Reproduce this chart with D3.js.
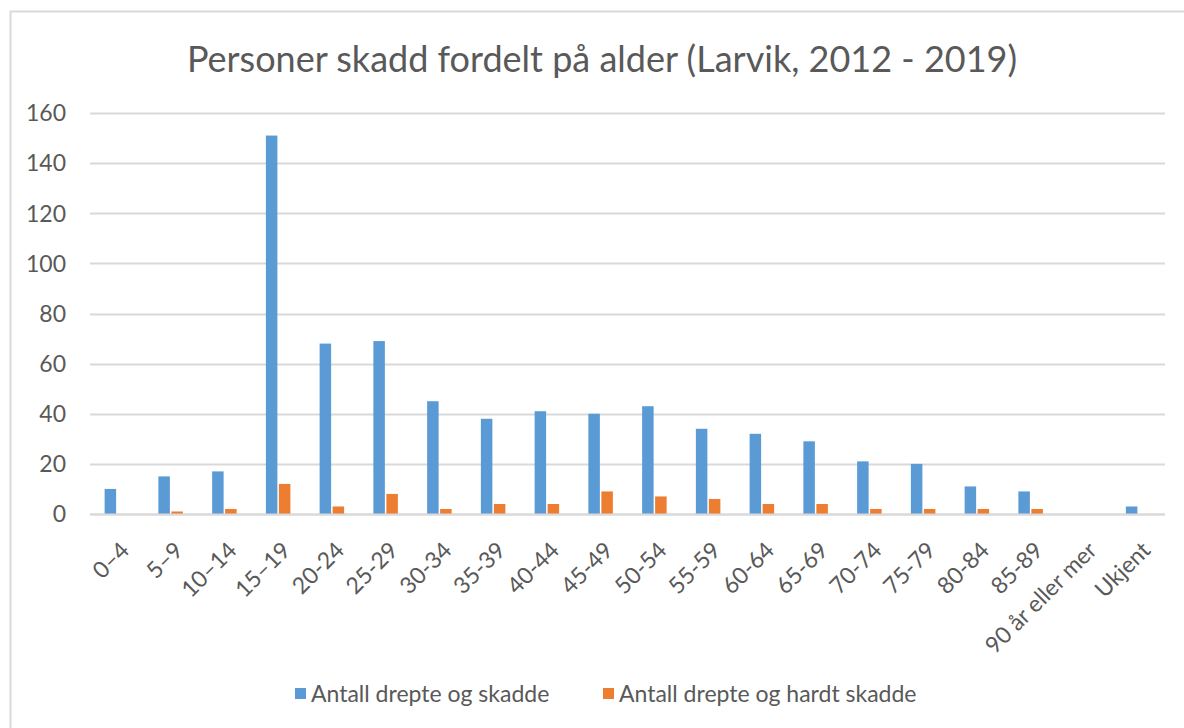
<!DOCTYPE html>
<html>
<head>
<meta charset="utf-8">
<script src="https://cdn.jsdelivr.net/npm/d3@7"></script>
<style>
  body { margin: 0; background: #fff; }
  svg text { font-family: Lato, "Open Sans", sans-serif; fill: #595959; }
</style>
</head>
<body>
<div id="chart"></div>
<script>
// data
var categories = ['0–4', '5–9', '10–14', '15–19', '20-24', '25-29', '30-34', '35-39', '40-44', '45-49',
  '50-54', '55-59', '60-64', '65-69', '70-74', '75-79', '80-84', '85-89', '90 år eller mer', 'Ukjent'];
var skadde = [10, 15, 17, 151, 68, 69, 45, 38, 41, 40, 43, 34, 32, 29, 21, 20, 11, 9, 0, 3];
var hardtSkadde = [0, 1, 2, 12, 3, 8, 2, 4, 4, 9, 7, 6, 4, 4, 2, 2, 2, 2, 0, 0];
var seriesNames = ['Antall drepte og skadde', 'Antall drepte og hardt skadde'];
var seriesColors = ['#5b9bd5', '#ed7d31'];
var yTicks = [0, 20, 40, 60, 80, 100, 120, 140, 160];

var width = 1184, height = 728;
var margin = { top: 113, right: 19, bottom: 214, left: 90 };

var svg = d3.select('#chart').append('svg')
  .attr('width', width)
  .attr('height', height);

// chart frame
svg.append('rect')
  .attr('x', 10.5).attr('y', 11.5)
  .attr('width', 1300).attr('height', 900)
  .attr('fill', 'none')
  .attr('stroke', '#d9d9d9')
  .attr('stroke-width', 2);

svg.append('text')
  .attr('x', 602).attr('y', 72)
  .attr('text-anchor', 'middle')
  .style('font-size', '36px')
  .text('Personer skadd fordelt på alder (Larvik, 2012 - 2019)');

var x = d3.scaleBand()
  .domain(categories)
  .range([margin.left, width - margin.right]);

var y = d3.scaleLinear()
  .domain([0, 160])
  .range([height - margin.bottom, margin.top]);

// gridlines
svg.append('g')
  .selectAll('line')
  .data(yTicks)
  .enter().append('line')
  .attr('x1', margin.left).attr('x2', width - margin.right)
  .attr('y1', function (d) { return Math.round(y(d)) + 0.5; })
  .attr('y2', function (d) { return Math.round(y(d)) + 0.5; })
  .attr('stroke', '#d9d9d9')
  .attr('stroke-width', 2);

// y labels
svg.append('g')
  .selectAll('text')
  .data(yTicks)
  .enter().append('text')
  .attr('x', 66)
  .attr('y', function (d) { return y(d); })
  .attr('dy', '0.36em')
  .attr('text-anchor', 'end')
  .style('font-size', '23px')
  .text(function (d) { return d; });

var barW = 11.5, gap = 1.5;
var series = [skadde, hardtSkadde];

series.forEach(function (vals, s) {
  svg.append('g')
    .selectAll('rect')
    .data(vals)
    .enter().append('rect')
    .attr('x', function (d, i) {
      var c = x(categories[i]) + x.bandwidth() / 2;
      return s === 0 ? c - gap / 2 - barW : c + gap / 2;
    })
    .attr('y', function (d) { return y(d); })
    .attr('width', barW)
    .attr('height', function (d) { return y(0) - y(d); })
    .attr('fill', seriesColors[s]);
});

// baseline over the bars
svg.append('line')
  .attr('x1', margin.left).attr('x2', width - margin.right)
  .attr('y1', Math.round(y(0)) + 0.5).attr('y2', Math.round(y(0)) + 0.5)
  .attr('stroke', '#d9d9d9')
  .attr('stroke-width', 2);

// category labels, rotated
svg.append('g')
  .selectAll('text')
  .data(categories)
  .enter().append('text')
  .attr('text-anchor', 'end')
  .attr('dy', '0.35em')
  .attr('transform', function (d) {
    var c = x(d) + x.bandwidth() / 2;
    return 'translate(' + (c + 8) + ',' + (y(0) + 32) + ') rotate(-45)';
  })
  .style('font-size', '23px')
  .text(function (d) { return d; });

// legend
var legendX = [295, 603];
var legend = svg.append('g');
seriesNames.forEach(function (name, s) {
  legend.append('rect')
    .attr('x', legendX[s]).attr('y', 688)
    .attr('width', 11).attr('height', 11)
    .attr('fill', seriesColors[s]);
  legend.append('text')
    .attr('x', legendX[s] + 16).attr('y', 694)
    .attr('dy', '0.35em')
    .style('font-size', '23px')
    .text(name);
});
</script>
</body>
</html>
